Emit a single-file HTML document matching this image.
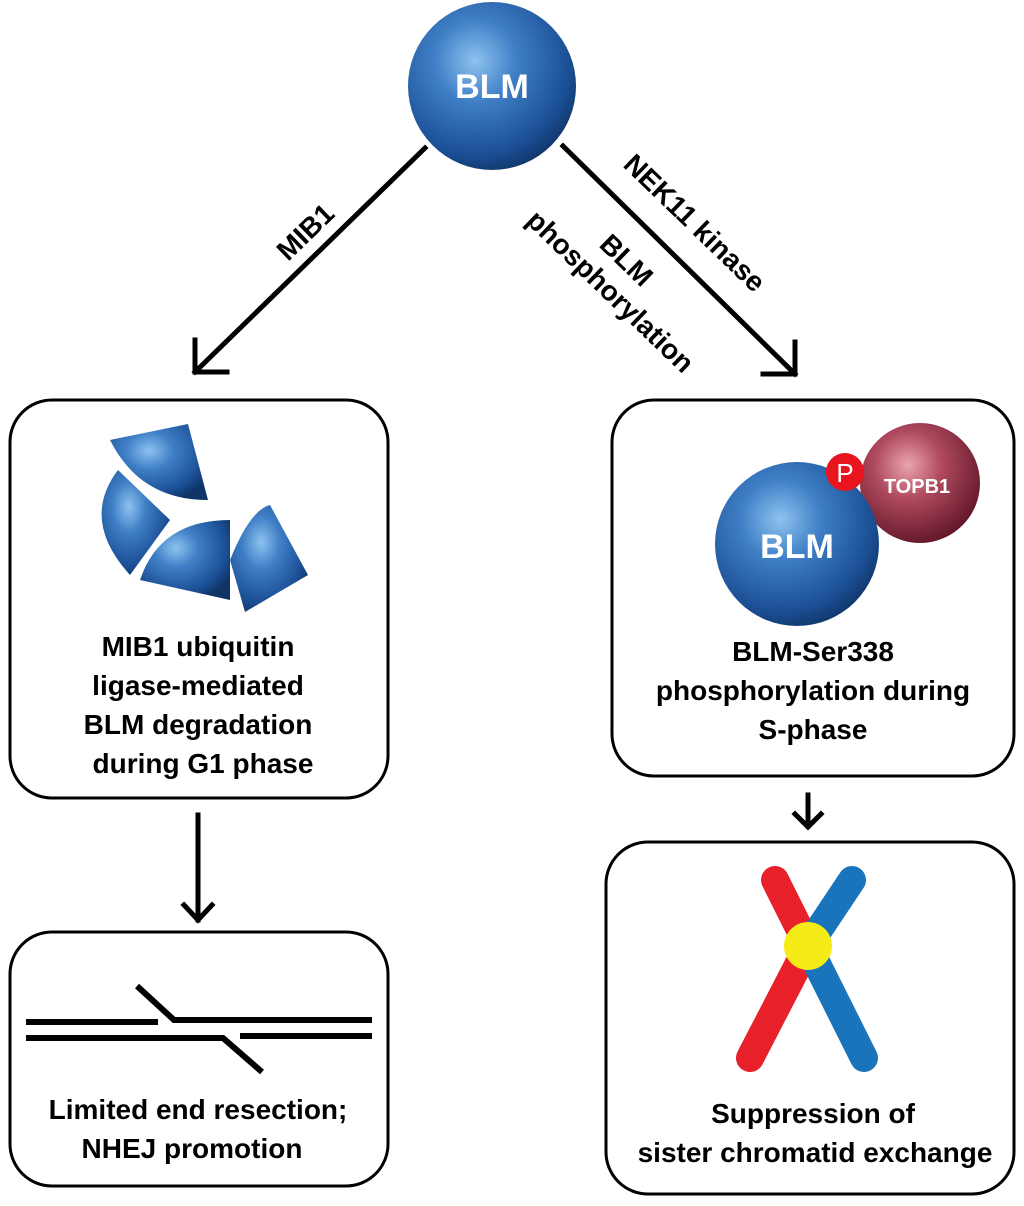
<!DOCTYPE html>
<html><head><meta charset="utf-8"><style>
html,body{margin:0;padding:0;background:#fff;width:1024px;height:1206px;overflow:hidden}
svg{display:block}
text{font-family:"Liberation Sans",sans-serif;font-weight:bold}
</style></head><body>
<svg width="1024" height="1206" viewBox="0 0 1024 1206">
<defs>
<radialGradient id="b" cx="0.4" cy="0.35" r="0.7">
<stop offset="0" stop-color="#8ec3f0"/><stop offset="0.35" stop-color="#3f7fc6"/><stop offset="0.8" stop-color="#1b4f95"/><stop offset="1" stop-color="#0f3466"/></radialGradient>
<radialGradient id="r" cx="0.4" cy="0.35" r="0.7">
<stop offset="0" stop-color="#e9a4b0"/><stop offset="0.4" stop-color="#b04a5e"/><stop offset="1" stop-color="#5e1426"/></radialGradient>
</defs>
<circle cx="492" cy="86" r="84" fill="url(#b)"/>
<text x="492" y="98" font-size="34" fill="#fff" text-anchor="middle">BLM</text>
<g stroke="#000" stroke-width="5" fill="none" stroke-linecap="square">
<line x1="425" y1="148" x2="195" y2="372"/>
<polyline points="195,340 195,372 227,372"/>
<line x1="563" y1="146" x2="795" y2="374"/>
<polyline points="763,374 795,374 795,342"/>
<line x1="198" y1="815" x2="198" y2="920"/>
<polyline points="184,905 198,920 212,905"/>
<line x1="808" y1="795" x2="808" y2="826"/>
<polyline points="795,814 808,827 821,814"/>
</g>
<text x="0" y="0" font-size="28" transform="translate(288,262) rotate(-44)">MIB1</text>
<text x="0" y="0" font-size="28" transform="translate(622,166) rotate(44)">NEK11 kinase</text>
<text x="0" y="0" font-size="28" transform="translate(598,246) rotate(44)">BLM</text>
<text x="0" y="0" font-size="28" transform="translate(525,222) rotate(44)">phosphorylation</text>
<g fill="none" stroke="#000" stroke-width="3">
<rect x="10" y="400" width="378" height="398" rx="42"/>
<rect x="612" y="400" width="402" height="376" rx="42"/>
<rect x="10" y="932" width="378" height="254" rx="42"/>
<rect x="606" y="842" width="408" height="352" rx="42"/>
</g>
<g fill="url(#b)">
<path d="M110,440 L188,424 L208,500 Q140,500 110,440Z"/>
<path d="M118,470 L170,520 L130,575 Q80,520 118,470Z"/>
<path d="M140,580 Q160,520 230,520 L230,600 Z"/>
<path d="M230,560 Q250,510 270,505 L308,575 L245,612 Z"/>
</g>
<circle cx="920" cy="483" r="60" fill="url(#r)"/>
<text x="917" y="493" font-size="20" fill="#fff" text-anchor="middle">TOPB1</text>
<circle cx="797" cy="544" r="82" fill="url(#b)"/>
<text x="797" y="558" font-size="34" fill="#fff" text-anchor="middle">BLM</text>
<circle cx="845" cy="472" r="19" fill="#e8141e"/>
<text x="845" y="482" font-size="26" fill="#fff" text-anchor="middle" style="font-weight:normal">P</text>
<g font-size="28" text-anchor="middle">
<text x="198" y="656">MIB1 ubiquitin</text>
<text x="198" y="695">ligase-mediated</text>
<text x="198" y="734">BLM degradation</text>
<text x="203" y="773">during G1 phase</text>
<text x="813" y="661">BLM-Ser338</text>
<text x="813" y="700">phosphorylation during</text>
<text x="813" y="739">S-phase</text>
<text x="198" y="1119">Limited end resection;</text>
<text x="192" y="1158">NHEJ promotion</text>
<text x="813" y="1123">Suppression of</text>
<text x="815" y="1162">sister chromatid exchange</text>
</g>
<g stroke="#000" stroke-width="6" fill="none">
<line x1="26" y1="1022" x2="158" y2="1022"/>
<polyline points="137,986 174,1020 372,1020"/>
<polyline points="26,1038 223,1038 262,1072"/>
<line x1="240" y1="1036" x2="372" y2="1036"/>
</g>
<g stroke-linecap="round" stroke-linejoin="round" stroke-width="28" fill="none">
<polyline points="775,880 808,946 750,1058" stroke="#e8202a"/>
<polyline points="852,880 808,946 864,1058" stroke="#1a74bc"/>
</g>
<circle cx="808" cy="946" r="24" fill="#f5ec17"/>
</svg>
</body></html>
